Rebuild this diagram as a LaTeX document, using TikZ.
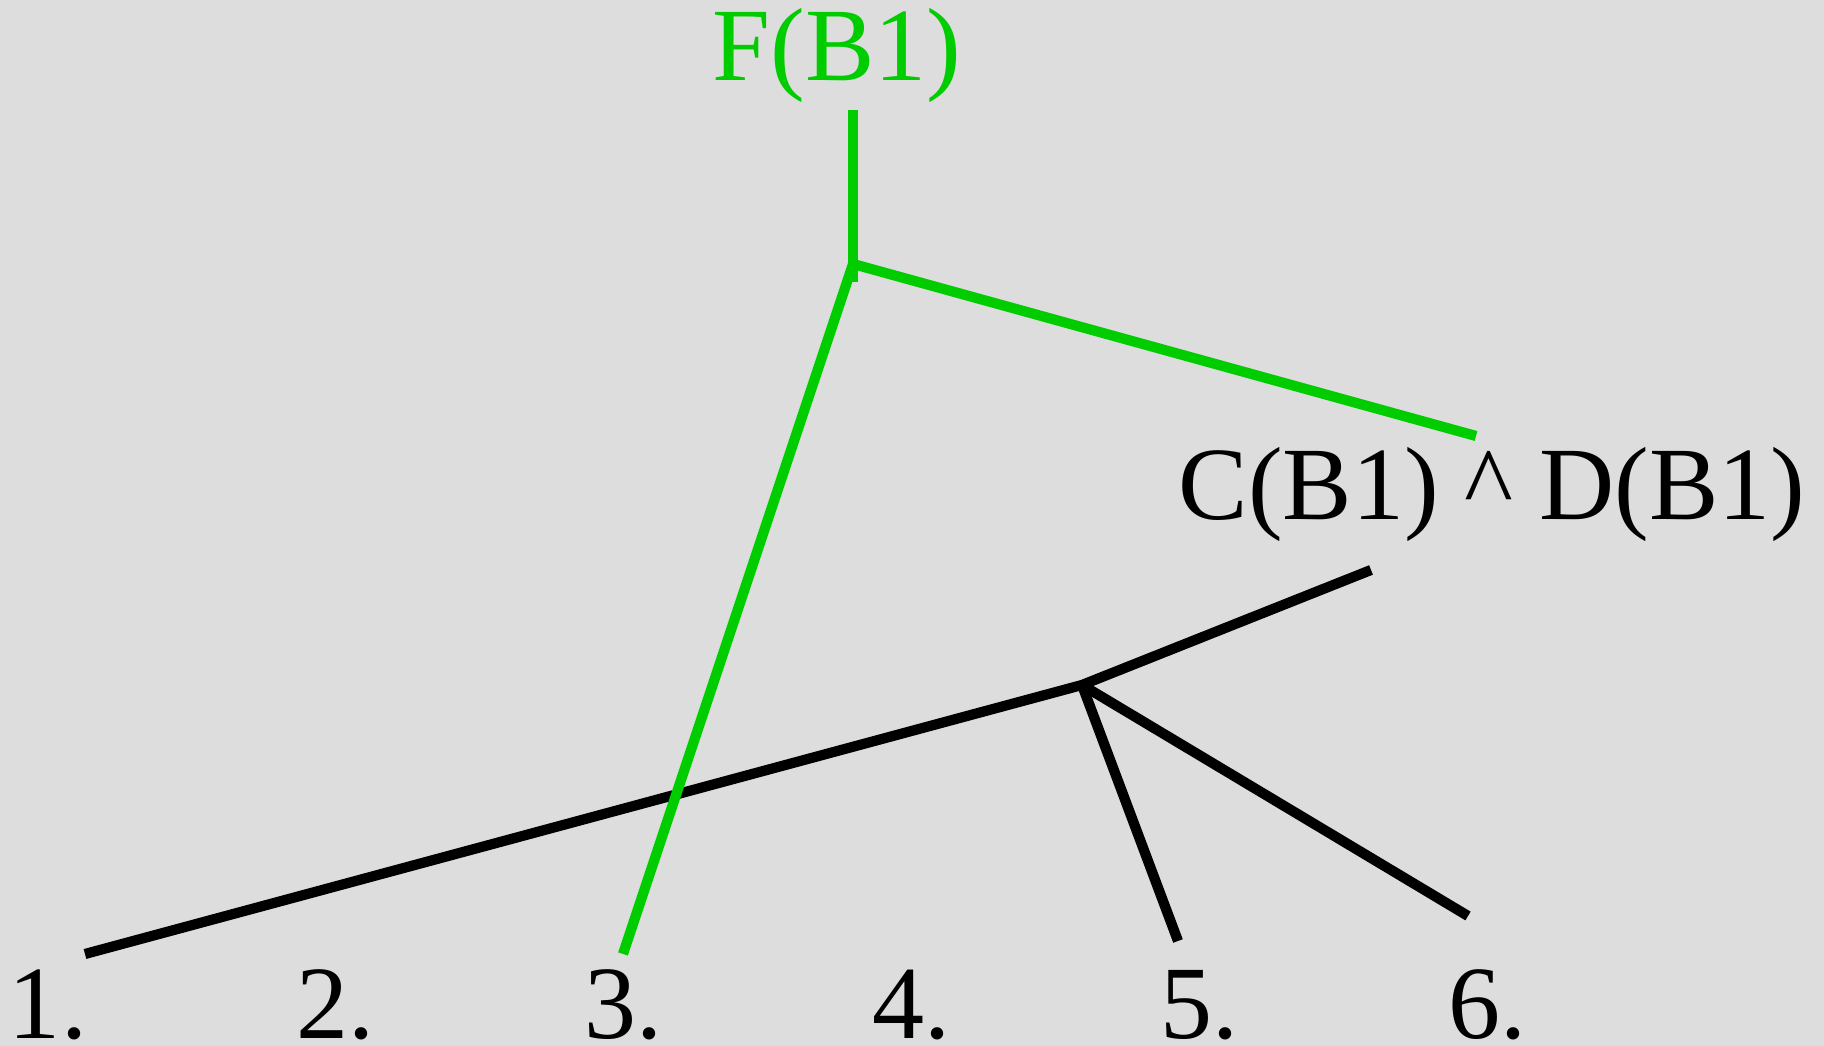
\documentclass[tikz,border=0pt]{standalone}
\usepackage{fontspec}
\setmainfont{Liberation Serif}
\usetikzlibrary{positioning}
\definecolor{bggray}{HTML}{DDDDDD}
\definecolor{trgreen}{HTML}{00CC00}

\begin{document}
\begin{tikzpicture}[
  formula/.style={font=\fontsize{29.6}{34}\selectfont, inner sep=0pt, anchor=base},
  branch/.style={line width=2.9pt, #1},
]
  \fill[bggray] (0, 0) rectangle (18.24, 10.46);
  \useasboundingbox (0, 0) rectangle (18.24, 10.46);

  \node[formula, trgreen] (fb) at (8.37, 9.65) {F(B1)};
  \node[formula] (cd) at (14.92, 5.26) {C(B1) \textasciicircum{} D(B1)};

  \foreach \i in {1,...,6}
    \node[formula] (n\i) at ({0.48 + 2.878*(\i-1)}, 0.07) {\i.};

  % black tree
  \coordinate (bj) at (10.82, 3.61);
  \coordinate (b1) at (0.85, 0.92);
  \coordinate (b2) at (13.71, 4.76);
  \coordinate (b3) at (11.78, 1.05);
  \coordinate (b4) at (14.68, 1.30);
  \draw[branch=black] (b1) -- (bj) -- (b2);
  \draw[branch=black] (bj) -- (b3);
  \draw[branch=black] (bj) -- (b4);

  % green tree
  \coordinate (gt) at (8.53, 9.36);
  \coordinate (gb) at (8.53, 7.64);
  \coordinate (gj) at (8.53, 7.82);
  \coordinate (g1) at (6.23, 0.92);
  \coordinate (g2) at (14.76, 6.10);
  \draw[branch=trgreen] (gt) -- (gb);
  \draw[branch=trgreen] (g1) -- (gj) -- (g2);
\end{tikzpicture}
\end{document}
